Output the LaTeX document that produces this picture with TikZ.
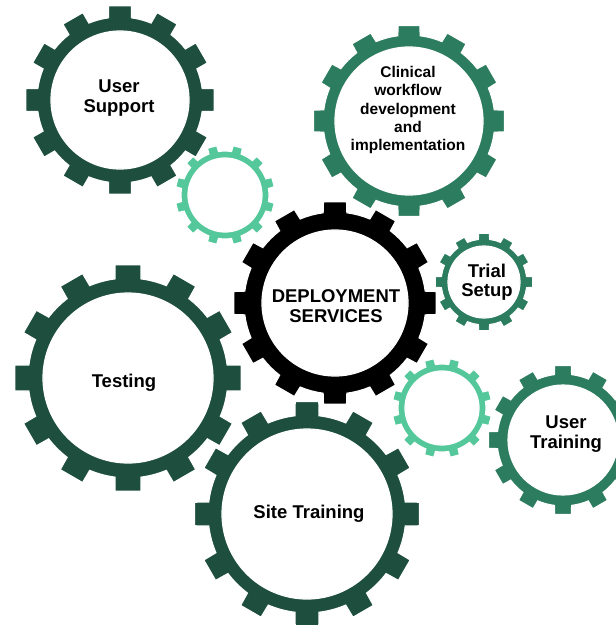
\documentclass[tikz,border=0pt]{standalone}
\usepackage{fontspec}
\setmainfont{Liberation Sans}
\usepackage{tikz}
\definecolor{gdark}{HTML}{1E4E3D}
\definecolor{gmid}{HTML}{2C7C5F}
\definecolor{glight}{HTML}{54C89B}
% colour, centre, inner radius, ring radius, tip radius, half tooth, rotation
\newcommand\drawcog[7]{%
  \fill[#1,draw=white,line width=1.2pt,even odd rule,shift={(#2)},rotate=#7]
    (-#6-1:#4) \foreach \k in {0,...,11}{
      -- (\k*30-#6:#5) -- (\k*30+#6:#5) -- (\k*30+#6+1:#4)
      arc[start angle=\k*30+#6+1, end angle=\k*30+29-#6, radius=#4]}
    -- cycle (0,0) circle[radius=#3];
}

\begin{document}
\begin{tikzpicture}[x=1pt,y=-1pt,
  lbl/.style={font=\fontsize{18.5}{19.5}\selectfont\bfseries,align=center,text=black,inner sep=0pt},
  small lbl/.style={lbl,font=\fontsize{15.5}{18.3}\selectfont\bfseries}]
\useasboundingbox (0,0) rectangle (616,625);
\coordinate (US) at (120,100);
\coordinate (CW) at (409,121);
\coordinate (L1) at (225,195);
\coordinate (DS) at (335,303);
\coordinate (TS) at (484,282);
\coordinate (TE) at (128,378);
\coordinate (L2) at (442,408);
\coordinate (UT) at (563,440);
\coordinate (ST) at (307,514);
\drawcog{gdark}{US}{69}{83}{95}{7}{0}
\drawcog{gmid}{CW}{74}{86}{96}{6.5}{0}
\drawcog{gdark}{TE}{85}{100}{114}{6.5}{0}
\drawcog{gdark}{ST}{85}{99}{113}{6}{0}
\drawcog{black}{DS}{73}{91}{102}{6.5}{0}
\drawcog{gmid}{TS}{36}{43}{49}{6.5}{0}
\drawcog{gmid}{UT}{55}{66}{75}{6.5}{0}
\drawcog{glight}{L1}{37}{44}{50}{5.5}{15}
\drawcog{glight}{L2}{37}{44}{50}{5.5}{15}
% labels
\node[lbl] (us) at (119,98) {User\\Support};
\node[small lbl] (cw) at (408,110) {Clinical\\workflow\\development\\and\\implementation};
\node[lbl] (ds) at (336,306) {DEPLOYMENT\\SERVICES};
\node[lbl] (ts) at (487,282) {Trial\\Setup};
\node[lbl] (te) at (124,383) {Testing};
\node[lbl] (ut) at (566,434) {User\\Training};
\node[lbl] (st) at (309,514) {Site Training};
\end{tikzpicture}
\end{document}
